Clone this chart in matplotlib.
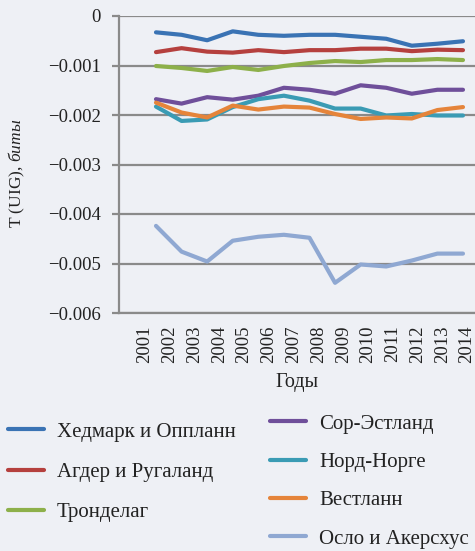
import matplotlib
matplotlib.use("Agg")
import matplotlib.pyplot as plt
import numpy as np

years = ["2001", "2002", "2003", "2004", "2005", "2006", "2007",
         "2008", "2009", "2010", "2011", "2012", "2013", "2014"]

hedmark = [-0.00033, -0.00038, -0.00049, -0.00031, -0.00038, -0.00040, -0.00038,
           -0.00038, -0.00042, -0.00046, -0.00060, -0.00056, -0.00051]
agder = [-0.00073, -0.00065, -0.00072, -0.00074, -0.00069, -0.00073, -0.00069,
         -0.00069, -0.00066, -0.00066, -0.00071, -0.00068, -0.00069]
trondelag = [-0.00101, -0.00105, -0.00111, -0.00103, -0.00109, -0.00101, -0.00095,
             -0.00091, -0.00093, -0.00089, -0.00089, -0.00087, -0.00089]
sor = [-0.00168, -0.00177, -0.00164, -0.00169, -0.00161, -0.00145, -0.00149,
       -0.00157, -0.00140, -0.00145, -0.00157, -0.00149, -0.00149]
nord = [-0.00183, -0.00212, -0.00209, -0.00184, -0.00168, -0.00161, -0.00171,
        -0.00187, -0.00187, -0.00201, -0.00198, -0.00201, -0.00201]
vestlann = [-0.00175, -0.00195, -0.00205, -0.00181, -0.00189, -0.00183, -0.00185,
            -0.00198, -0.00208, -0.00205, -0.00207, -0.00190, -0.00184]
oslo = [-0.00424, -0.00476, -0.00496, -0.00454, -0.00446, -0.00442, -0.00448,
        -0.00539, -0.00502, -0.00506, -0.00494, -0.00480, -0.00480]

names_left = ["Хедмарк и Оппланн", "Агдер и Ругаланд", "Тронделаг"]
names_right = ["Сор-Эстланд", "Норд-Норге", "Вестланн", "Осло и Акерсхус"]
colors_left = ["#3A73B4", "#B5403E", "#8DB04A"]
colors_right = ["#6F4F9A", "#3A9BB4", "#E5843A", "#8FA8D2"]

bg = "#EEF0F5"
grid_c = "#8A8A8A"
txt_c = "#222222"

plt.rcParams['font.family'] = ['Liberation Serif', 'DejaVu Serif']
plt.rcParams['mathtext.fontset'] = 'custom'
plt.rcParams['mathtext.rm'] = 'Liberation Serif'
plt.rcParams['mathtext.it'] = 'Liberation Serif:italic'

fig = plt.figure(figsize=(4.75, 5.51), dpi=100, facecolor=bg)
ax = fig.add_axes([119/475, 1-313/551, 1-119/475, (313-16)/551])
ax.set_facecolor(bg)

idx = np.arange(len(hedmark))
series_left = [hedmark, agder, trondelag]
series_right = [sor, nord, vestlann, oslo]
lines_left = []
lines_right = []
for s, c, n in zip(series_left, colors_left, names_left):
    l, = ax.plot(idx, s, color=c, lw=3, solid_capstyle='round', label=n)
    lines_left.append(l)
for s, c, n in zip(series_right, colors_right, names_right):
    l, = ax.plot(idx, s, color=c, lw=3, solid_capstyle='round', label=n)
    lines_right.append(l)

ax.set_ylim(-0.006, 0)
ax.set_xlim(-1.446, 12.47)
yt = np.arange(-0.006, 0.0001, 0.001)
ax.set_yticks(yt)
ax.set_yticklabels(["\u22120.006", "\u22120.005", "\u22120.004", "\u22120.003",
                    "\u22120.002", "\u22120.001", "0"])
ax.yaxis.grid(True, color=grid_c, lw=1.6)
ax.set_axisbelow(True)
ax.tick_params(axis='y', length=5, width=1.6, color=grid_c, labelsize=13.5,
               labelcolor=txt_c, pad=8)
ax.set_xticks(np.linspace(-0.43, 12.16, len(years)))
ax.set_xticklabels(years, rotation=90)
ax.tick_params(axis='x', length=0, labelsize=13.5, labelcolor=txt_c, pad=9)
for sp in ['top', 'right']:
    ax.spines[sp].set_visible(False)
ax.spines['left'].set_color(grid_c)
ax.spines['left'].set_linewidth(1.6)
ax.spines['bottom'].set_color(grid_c)
ax.spines['bottom'].set_linewidth(1.6)

ax.set_xlabel("Годы", fontsize=14.5, color=txt_c, labelpad=7)
fig.text(17/475, 1-173/551, "T (UIG), $\\mathit{биты}$", rotation=90,
         ha='center', va='center', fontsize=12.5, color=txt_c)

common = dict(loc='upper left', frameon=False, fontsize=15, handlelength=1.75,
              handletextpad=0.6, borderpad=0, borderaxespad=0,
              labelcolor=txt_c)
leg1 = fig.legend(handles=lines_left, bbox_to_anchor=(8/475, 1-422/551),
                  labelspacing=1.0, **common)
leg2 = fig.legend(handles=lines_right, bbox_to_anchor=(270/475, 1-414/551),
                  labelspacing=0.9, **common)

fig.savefig("out.png", dpi=100, facecolor=bg)
